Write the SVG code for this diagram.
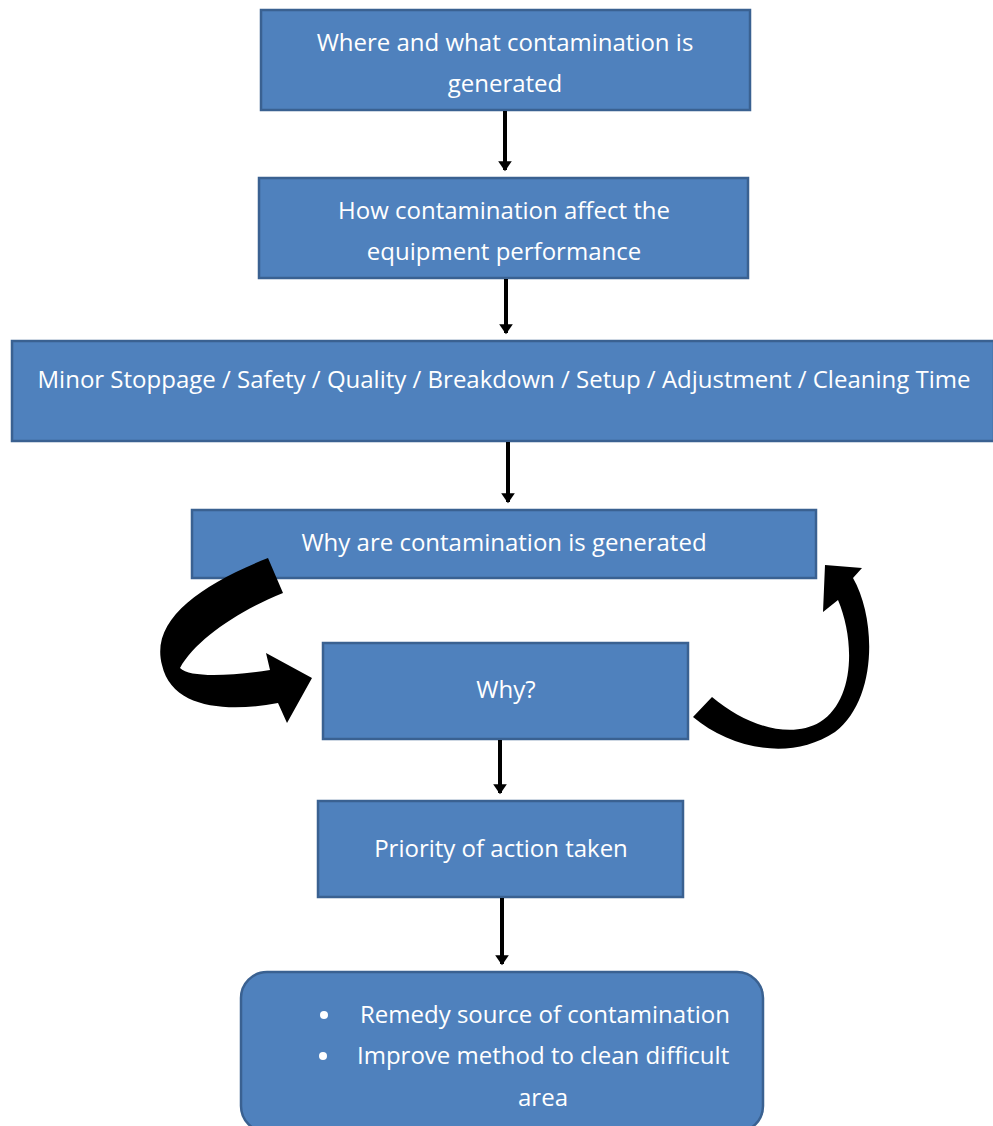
<svg xmlns="http://www.w3.org/2000/svg" width="993" height="1126" viewBox="0 0 993 1126">
<style>
.box{fill:#4F81BD;stroke:#3A6191;stroke-width:2.5}
.t{fill:#ffffff;font-family:"Open Sans","Liberation Sans",Arial,sans-serif;font-size:24px;text-anchor:middle}
.tl{fill:#ffffff;font-family:"Open Sans","Liberation Sans",Arial,sans-serif;font-size:24px}
.c{stroke:#000;stroke-width:4;fill:none;marker-end:url(#ah)}
</style>
<defs>
<marker id="ah" markerWidth="4" markerHeight="4" refX="2.2" refY="2" orient="auto" markerUnits="strokeWidth">
<path d="M0,0.3 L2.5,2 L0,3.7 Z" fill="#000"/>
</marker>
</defs>
<rect width="993" height="1126" fill="#fff"/>
<g id="n1"><rect class="box" x="261" y="10" width="489" height="100"/>
<text class="t" x="505" y="51">Where and what contamination is</text>
<text class="t" x="505" y="92">generated</text></g>
<g id="n2"><rect class="box" x="259" y="178" width="489" height="100"/>
<text class="t" x="504" y="219">How contamination affect the</text>
<text class="t" x="504" y="260">equipment performance</text></g>
<g id="n3"><rect class="box" x="12" y="341" width="982" height="100"/>
<text class="t" x="504" y="388">Minor Stoppage / Safety / Quality / Breakdown / Setup / Adjustment / Cleaning Time</text></g>
<g id="n4"><rect class="box" x="192" y="510" width="624" height="68"/>
<text class="t" x="504" y="551">Why are contamination is generated</text></g>
<g id="n5"><rect class="box" x="323" y="643" width="365" height="96"/>
<text class="t" x="506" y="698">Why?</text></g>
<g id="n6"><rect class="box" x="318" y="801" width="365" height="96"/>
<text class="t" x="501" y="857">Priority of action taken</text></g>
<g id="n7"><rect class="box" x="241" y="972" width="522" height="160" rx="26"/>
<circle cx="324" cy="1015" r="4" fill="#fff"/>
<circle cx="323" cy="1056" r="4" fill="#fff"/>
<text class="tl" x="360" y="1023">Remedy source of contamination</text>
<text class="tl" x="357" y="1064">Improve method to clean difficult</text>
<text class="t" x="543" y="1106">area</text></g>
<g id="connectors">
<line class="c" x1="505" y1="111" x2="505" y2="170"/>
<line class="c" x1="506" y1="279" x2="506" y2="333"/>
<line class="c" x1="508" y1="442" x2="508" y2="502"/>
<line class="c" x1="500" y1="740" x2="500" y2="793"/>
<line class="c" x1="502" y1="898" x2="502" y2="964"/>
<path id="loop-left" fill="#000" d="M 268 558 C 200 585, 150 620, 162 665 C 172 710, 230 712, 278 703 L 287 723 L 312 678 L 266 653 L 270 670 C 230 676, 190 678, 180 668 C 195 640, 240 610, 283 593 Z"/>
<path id="loop-right" fill="#000" d="M 693 717 C 730 748, 790 762, 835 732 C 877 700, 877 620, 853 578 L 862 568 L 825 565 L 823 612 L 838 600 C 855 640, 855 700, 820 722 C 790 740, 745 725, 712 697 Z"/>
</g>
</svg>
